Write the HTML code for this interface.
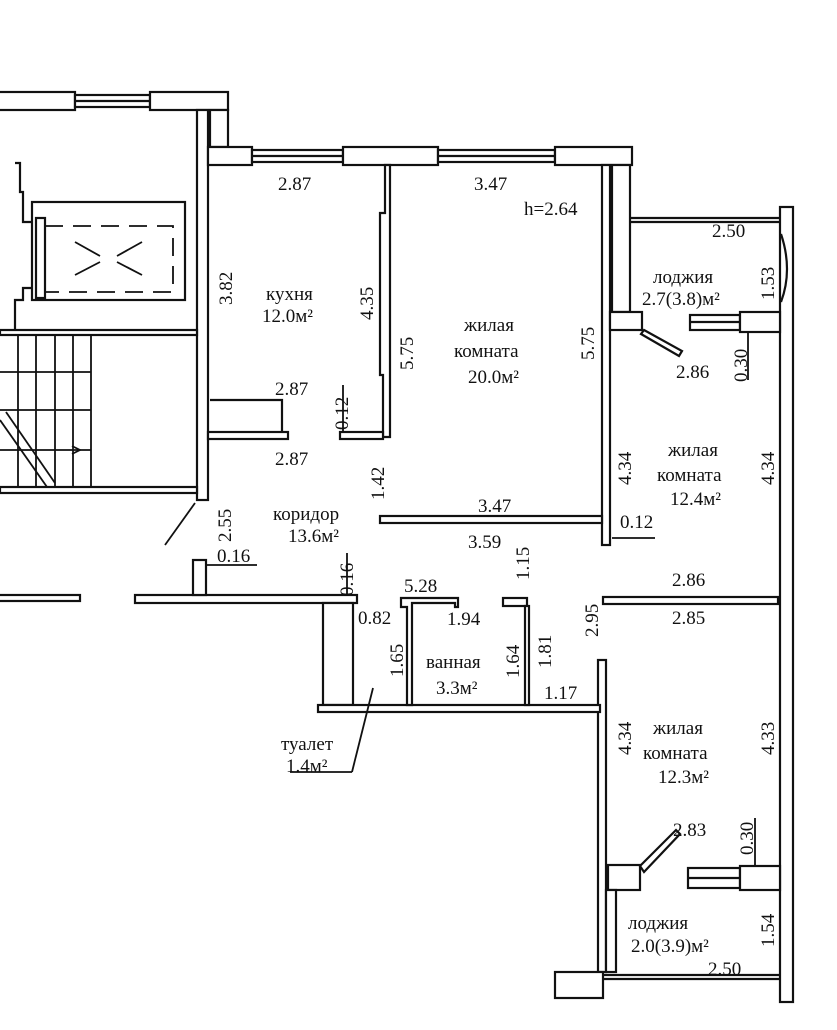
<!DOCTYPE html>
<html><head><meta charset="utf-8"><style>
html,body{margin:0;padding:0;background:#fff}
svg{display:block}
text{font-family:"Liberation Serif",serif;font-size:19px;fill:#111}
</style></head><body>
<svg width="837" height="1030" viewBox="0 0 837 1030" xmlns="http://www.w3.org/2000/svg">
<g fill="#fff" stroke="#111" stroke-width="2.2">
<rect x="-5" y="92" width="80" height="18"/>
<rect x="75" y="95" width="75" height="12"/><line x1="75" y1="101" x2="150" y2="101"/>
<rect x="150" y="92" width="78" height="18"/>
<rect x="210" y="110" width="18" height="37"/>
<rect x="197" y="110" width="11" height="390"/>
<rect x="208" y="147" width="44" height="18"/>
<rect x="252" y="150" width="91" height="12"/><line x1="252" y1="156" x2="343" y2="156"/>
<rect x="343" y="147" width="95" height="18"/>
<rect x="438" y="150" width="117" height="12"/><line x1="438" y1="156" x2="555" y2="156"/>
<rect x="555" y="147" width="77" height="18"/>
<rect x="612" y="165" width="18" height="147"/>
<rect x="602" y="165" width="8" height="380"/>
<path d="M385 165 L390 165 L390 437 L383 437 L383 375 L380 375 L380 213 L385 213 Z"/>
<rect x="208" y="432" width="80" height="7"/>
<polyline points="210,400 282,400 282,432" fill="none"/>
<rect x="340" y="432" width="43" height="7"/>
<rect x="380" y="516" width="222" height="7"/>
<line x1="630" y1="218" x2="780" y2="218"/><line x1="630" y1="222" x2="780" y2="222"/>
<rect x="780" y="207" width="13" height="795"/>
<path d="M781 234 Q793 270 781 302" fill="none"/>
<rect x="610" y="312" width="32" height="18"/>
<polygon points="644,330 682,351 679,356 641,334"/>
<rect x="690" y="315" width="50" height="15"/><line x1="690" y1="322" x2="740" y2="322"/>
<rect x="740" y="312" width="40" height="20"/>
<rect x="603" y="597" width="175" height="7"/>
<rect x="598" y="660" width="8" height="312"/>
<rect x="608" y="865" width="32" height="25"/>
<polygon points="640,866 676,830 680,834 644,872"/>
<rect x="688" y="868" width="52" height="20"/><line x1="688" y1="878" x2="740" y2="878"/>
<rect x="740" y="866" width="40" height="24"/>
<rect x="606" y="890" width="10" height="82"/>
<rect x="555" y="972" width="48" height="26"/>
<line x1="603" y1="975" x2="780" y2="975"/><line x1="603" y1="979" x2="780" y2="979"/>
<rect x="-5" y="595" width="85" height="6"/>
<rect x="135" y="595" width="222" height="8"/>
<rect x="193" y="560" width="13" height="35"/>
<rect x="323" y="603" width="30" height="102"/>
<rect x="318" y="705" width="282" height="7"/>
<path d="M401 598 L458 598 L458 607 L455 607 L455 603 L412 603 L412 705 L407 705 L407 607 L401 607 Z"/>
<rect x="503" y="598" width="24" height="8"/>
<rect x="525" y="606" width="4" height="99"/>
<rect x="0" y="330" width="197" height="5"/>
<rect x="0" y="487" width="197" height="6"/>
<rect x="32" y="202" width="153" height="98"/>
<rect x="36" y="218" width="9" height="80"/>
<polyline points="15,163 20,163 20,192 23,192 23,222 32,222" fill="none"/>
<polyline points="15,330 15,300 23,300 23,288 32,288" fill="none"/>
</g>
<g stroke="#111" stroke-width="1.8" fill="none">
<line x1="0" y1="372" x2="91" y2="372"/><line x1="0" y1="410" x2="91" y2="410"/><line x1="0" y1="450" x2="91" y2="450"/>
<line x1="18" y1="335" x2="18" y2="487"/><line x1="36" y1="335" x2="36" y2="487"/><line x1="55" y1="335" x2="55" y2="487"/><line x1="73" y1="335" x2="73" y2="487"/><line x1="91" y1="335" x2="91" y2="487"/>
<line x1="0" y1="420" x2="47" y2="487"/><line x1="6" y1="412" x2="55" y2="483"/>
<path d="M72 446 L80 450 L72 454"/>
<rect x="45" y="226" width="128" height="66" stroke-dasharray="18,10"/>
<line x1="75" y1="242" x2="100" y2="256"/><line x1="142" y1="242" x2="117" y2="256"/>
<line x1="75" y1="275" x2="100" y2="262"/><line x1="142" y1="275" x2="117" y2="262"/>
<line x1="195" y1="503" x2="165" y2="545"/>
<line x1="373" y1="688" x2="352" y2="772"/><line x1="290" y1="772" x2="352" y2="772"/>
<line x1="206" y1="565" x2="257" y2="565"/>
<line x1="347" y1="553" x2="347" y2="595"/>
<line x1="343" y1="385" x2="343" y2="432"/>
<line x1="612" y1="538" x2="655" y2="538"/>
<line x1="748" y1="332" x2="748" y2="380"/>
<line x1="755" y1="818" x2="755" y2="866"/>
</g>
<g>
<text x="278" y="190">2.87</text>
<text x="474" y="190">3.47</text>
<text x="524" y="215">h=2.64</text>
<text x="712" y="237">2.50</text>
<text x="266" y="300">кухня</text>
<text x="262" y="322">12.0м²</text>
<text x="653" y="283">лоджия</text>
<text x="642" y="305">2.7(3.8)м²</text>
<text x="464" y="331">жилая</text>
<text x="454" y="357">комната</text>
<text x="468" y="383">20.0м²</text>
<text x="676" y="378">2.86</text>
<text x="275" y="395">2.87</text>
<text x="275" y="465">2.87</text>
<text x="668" y="456">жилая</text>
<text x="657" y="481">комната</text>
<text x="670" y="505">12.4м²</text>
<text x="478" y="512">3.47</text>
<text x="468" y="548">3.59</text>
<text x="620" y="528">0.12</text>
<text x="273" y="520">коридор</text>
<text x="288" y="542">13.6м²</text>
<text x="217" y="562">0.16</text>
<text x="672" y="586">2.86</text>
<text x="672" y="624">2.85</text>
<text x="404" y="592">5.28</text>
<text x="358" y="624">0.82</text>
<text x="447" y="625">1.94</text>
<text x="426" y="668">ванная</text>
<text x="436" y="694">3.3м²</text>
<text x="544" y="699">1.17</text>
<text x="653" y="734">жилая</text>
<text x="643" y="759">комната</text>
<text x="658" y="783">12.3м²</text>
<text x="281" y="750">туалет</text>
<text x="286" y="772">1.4м²</text>
<text x="673" y="836">2.83</text>
<text x="628" y="929">лоджия</text>
<text x="631" y="952">2.0(3.9)м²</text>
<text x="708" y="975">2.50</text>
</g>
<g>
<text transform="translate(232,305) rotate(-90)">3.82</text>
<text transform="translate(373,320) rotate(-90)">4.35</text>
<text transform="translate(413,370) rotate(-90)">5.75</text>
<text transform="translate(594,360) rotate(-90)">5.75</text>
<text transform="translate(774,300) rotate(-90)">1.53</text>
<text transform="translate(747,382) rotate(-90)">0.30</text>
<text transform="translate(348,430) rotate(-90)">0.12</text>
<text transform="translate(384,500) rotate(-90)">1.42</text>
<text transform="translate(231,542) rotate(-90)">2.55</text>
<text transform="translate(353,596) rotate(-90)">0.16</text>
<text transform="translate(631,485) rotate(-90)">4.34</text>
<text transform="translate(774,485) rotate(-90)">4.34</text>
<text transform="translate(529,580) rotate(-90)">1.15</text>
<text transform="translate(598,637) rotate(-90)">2.95</text>
<text transform="translate(403,677) rotate(-90)">1.65</text>
<text transform="translate(519,678) rotate(-90)">1.64</text>
<text transform="translate(551,668) rotate(-90)">1.81</text>
<text transform="translate(631,755) rotate(-90)">4.34</text>
<text transform="translate(774,755) rotate(-90)">4.33</text>
<text transform="translate(753,855) rotate(-90)">0.30</text>
<text transform="translate(774,947) rotate(-90)">1.54</text>
</g>
</svg>
</body></html>
